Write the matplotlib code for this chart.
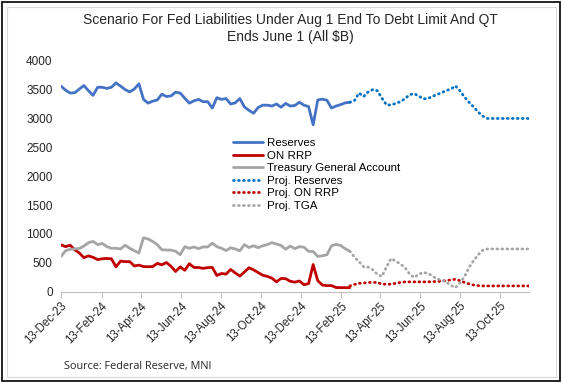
import matplotlib
matplotlib.use('Agg')
import matplotlib.pyplot as plt
import matplotlib.dates as mdates
from matplotlib.patches import Rectangle
import pandas as pd

plt.rcParams['font.family'] = ['Liberation Sans', 'DejaVu Sans']

# weekly actuals, 13-Dec-23 to 26-Feb-25 ($B)
reserves = [3560, 3490, 3440, 3445, 3510, 3570, 3480, 3400, 3540, 3540,
            3520, 3540, 3615, 3560, 3500, 3460, 3510, 3600, 3330, 3265,
            3300, 3320, 3420, 3380, 3390, 3455, 3440, 3350, 3265, 3305,
            3330, 3290, 3290, 3180, 3360, 3330, 3345, 3250, 3270, 3345,
            3200, 3140, 3090, 3190, 3230, 3230, 3215, 3250, 3195, 3260,
            3215, 3225, 3280, 3230, 3205, 2890, 3320, 3335, 3315, 3180,
            3215, 3240, 3270, 3280]
on_rrp = [810, 780, 805, 725, 670, 590, 620, 595, 555, 570,
          575, 570, 430, 530, 520, 520, 445, 460, 435, 432,
          435, 490, 465, 505, 440, 350, 430, 370, 485, 420,
          418, 405, 416, 420, 280, 315, 305, 385, 325, 270,
          340, 415, 378, 330, 285, 265, 235, 170, 230, 225,
          180, 165, 185, 120, 140, 470, 190, 115, 105, 105,
          72, 70, 70, 70]
tga = [610, 710, 735, 740, 750, 790, 850, 870, 815, 835,
       780, 752, 752, 740, 805, 752, 710, 670, 935, 912,
       870, 815, 725, 722, 720, 700, 640, 780, 752, 775,
       745, 775, 775, 840, 780, 752, 712, 760, 740, 708,
       815, 765, 795, 762, 795, 815, 850, 825, 800, 735,
       790, 745, 780, 770, 700, 695, 610, 622, 640, 795,
       820, 800, 745, 700]

# weekly projections, 26-Feb-25 to 26-Nov-25
proj_reserves = [3280, 3310, 3440, 3380, 3460, 3500, 3480, 3350, 3235, 3235,
                 3260, 3290, 3340, 3410, 3430, 3390, 3340, 3345, 3380, 3415,
                 3445, 3485, 3505, 3565, 3480, 3370, 3280, 3200, 3110, 3040,
                 3000, 3000, 3000, 3000, 3000, 3000, 3000, 3000, 3000, 3000]
proj_on_rrp = [100, 125, 145, 150, 160, 160, 160, 130, 130, 130,
               145, 160, 170, 170, 170, 170, 170, 170, 175, 175,
               185, 190, 205, 215, 190, 160, 135, 115, 105, 100,
               100, 100, 100, 100, 100, 100, 100, 100, 100, 100]
proj_tga = [700, 600, 520, 430, 425, 380, 300, 265, 430, 575,
            530, 480, 420, 310, 245, 300, 332, 320, 270, 225,
            200, 170, 110, 70, 150, 260, 420, 540, 640, 720,
            740, 740, 740, 740, 740, 740, 740, 740, 740, 740]

tick_labels = ['13-Dec-23', '13-Feb-24', '13-Apr-24', '13-Jun-24', '13-Aug-24',
               '13-Oct-24', '13-Dec-24', '13-Feb-25', '13-Apr-25', '13-Jun-25',
               '13-Aug-25', '13-Oct-25']
y_ticks = [0, 500, 1000, 1500, 2000, 2500, 3000, 3500, 4000]

dates = pd.date_range('2023-12-13', periods=len(reserves), freq='7D')
proj_dates = pd.date_range(dates[-1], periods=len(proj_reserves), freq='7D')
tick_dates = pd.to_datetime(tick_labels, format='%d-%b-%y')

fig = plt.figure(figsize=(5.62, 3.84), dpi=100)
ax = fig.add_axes([0.1085, 0.2404, 0.8322, 0.6015])

ax.plot(dates, reserves, color='#4472C4', lw=2, label='Reserves', solid_capstyle='round')
ax.plot(dates, on_rrp, color='#C00000', lw=2, label='ON RRP', solid_capstyle='round')
ax.plot(dates, tga, color='#A5A5A5', lw=2, label='Treasury General Account', solid_capstyle='round')
ax.plot(proj_dates, proj_reserves, color='#0070C0', lw=2, ls=(0, (0.3, 1.5)),
        dash_capstyle='round', label='Proj. Reserves')
ax.plot(proj_dates, proj_on_rrp, color='#C00000', lw=2, ls=(0, (0.3, 1.5)),
        dash_capstyle='round', label='Proj. ON RRP')
ax.plot(proj_dates, proj_tga, color='#A5A5A5', lw=2, ls=(0, (0.3, 1.5)),
        dash_capstyle='round', label='Proj. TGA')

ax.set_xlim(dates[0], proj_dates[-1])
ax.set_ylim(0, 4000)
ax.set_yticks(y_ticks)
ax.set_xticks(tick_dates)
ax.set_xticklabels(tick_labels, rotation=45, ha='right', rotation_mode='anchor')
ax.tick_params(axis='x', length=4, color='#BFBFBF', labelsize=8.3, pad=2)
ax.tick_params(axis='y', length=0, labelsize=8.5, pad=6)
for lab in ax.get_xticklabels() + ax.get_yticklabels():
    lab.set_color('#262626')

for s in ['top', 'right', 'left']:
    ax.spines[s].set_visible(False)
ax.spines['bottom'].set_color('#BFBFBF')
ax.spines['bottom'].set_linewidth(0.8)

ax.legend(loc='upper left', bbox_to_anchor=(0.4146, 0.6407), bbox_transform=fig.transFigure,
          frameon=False, fontsize=8.25, handlelength=2.6, handletextpad=0.4,
          labelspacing=0.22, borderpad=0, borderaxespad=0)

fig.text(0.516, 0.926, 'Scenario For Fed Liabilities Under Aug 1 End To Debt Limit And QT\nEnds June 1 (All $B)',
         ha='center', va='center', fontsize=10, color='#262626', linespacing=1.2)
fig.text(0.114, 0.045, 'Source: Federal Reserve, MNI', ha='left', va='center',
         fontsize=7.8, color='#262626', family=['Open Sans', 'DejaVu Sans'])

# chart borders
fig.patches.append(Rectangle((7 / 562, 7 / 384), 549 / 562, 370 / 384, transform=fig.transFigure,
                             fill=False, edgecolor='#D9D9D9', lw=0.8))
fig.patches.append(Rectangle((1.5 / 562, 3 / 384), 558.5 / 562, 379.5 / 384, transform=fig.transFigure,
                             fill=False, edgecolor='black', lw=1.2))

fig.savefig('out.png', dpi=100)
